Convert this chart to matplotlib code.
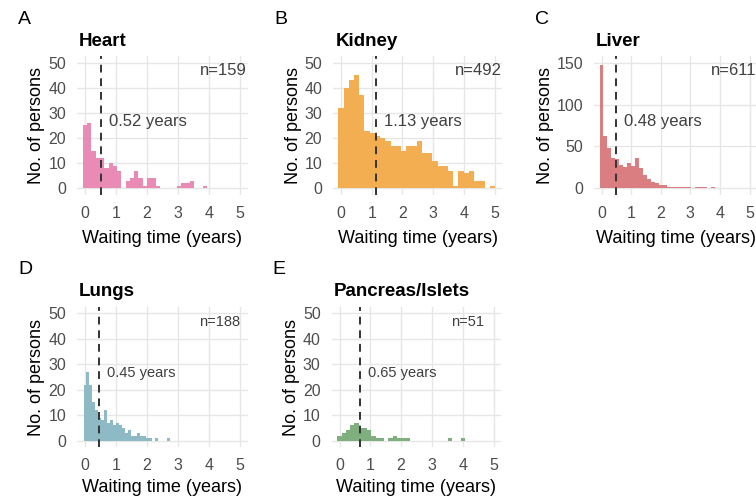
import numpy as np
import matplotlib
matplotlib.use("Agg")
import matplotlib.pyplot as plt

plt.rcParams['font.family'] = ['Liberation Sans', 'DejaVu Sans']

# ---------------- data ----------------
organs = ["Heart", "Kidney", "Liver", "Lungs", "Pancreas/Islets"]
letters = ["A", "B", "C", "D", "E"]
n_persons = [159, 492, 611, 188, 51]
medians = [0.52, 1.13, 0.48, 0.45, 0.65]
bin_widths = [0.138, 0.17, 0.135, 0.0966, 0.138]
colors = ["#E98BB5", "#F2AE50", "#DA7E82", "#8DBAC5", "#7FAF7E"]
y_max = [50, 50, 150, 50, 50]
y_ticks = [[0, 10, 20, 30, 40, 50], [0, 10, 20, 30, 40, 50], [0, 50, 100, 150],
           [0, 10, 20, 30, 40, 50], [0, 10, 20, 30, 40, 50]]
x_ticks = [0, 1, 2, 3, 4, 5]

heart_counts = [25, 26, 15, 12, 12, 8, 10, 9, 7, 0, 3, 4, 7, 4, 1, 4, 4, 1,
                0, 0, 0, 0, 1, 2, 2, 3, 0, 0, 1, 0]
kidney_counts = [32, 40, 43, 45, 37, 23, 22, 21, 20, 19, 17, 17, 15, 17, 17,
                 19, 14, 14, 11, 9, 9, 7, 1, 7, 6, 7, 3, 3, 0, 1]
liver_counts = [147, 63, 48, 36, 35, 28, 26, 30, 27, 36, 24, 16, 11, 8, 6,
                4, 4, 2, 2, 2, 1, 1, 1, 0, 1, 1, 1, 0, 1, 0]
lungs_counts = [22, 27, 22, 15, 12, 9, 8, 12, 7, 8, 6, 7, 6, 5, 3, 4, 2, 2,
                3, 2, 2, 1, 1, 0, 1, 0, 0, 0, 1, 0]
pancreas_counts = [2, 3, 4, 6, 7, 5, 5, 4, 2, 1, 1, 0, 1, 2, 1, 1, 1, 0, 0,
                   0, 0, 0, 0, 0, 0, 0, 1, 0, 0, 1]
all_counts = [heart_counts, kidney_counts, liver_counts, lungs_counts, pancreas_counts]

# ---------------- layout (pixels) ----------------
W, H = 756, 498
fig = plt.figure(figsize=(W / 100, H / 100), dpi=100)

# (x of year 0, px per year, y-top, y-bottom)
panel_px = [
    (85.0, 31.0, 56.4, 194.6),
    (341.0, 30.7, 56.4, 194.6),
    (601.5, 29.6, 56.4, 194.6),
    (85.0, 31.0, 307.0, 447.0),
    (339.5, 30.8, 307.0, 447.0),
]
text_scale = [1.0, 1.0, 1.0, 0.88, 0.88]
n_xpos = [5.22, 5.25, 5.25, 5.0, 4.7]
xlabel_pad = [7, 7, 7, 4, 4]

grid_col = "#E6E6E6"
for i in range(5):
    x0, ppy, top, bot = panel_px[i]
    left = x0 - 0.25 * ppy
    width = 5.5 * ppy
    ax = fig.add_axes([left / W, 1 - bot / H, width / W, (bot - top) / H])
    counts = np.array(all_counts[i])
    w = bin_widths[i]
    centers = np.arange(len(counts)) * w
    ax.bar(centers, counts, width=w, color=colors[i], edgecolor='none', zorder=2)
    ym = y_max[i]
    ax.set_xlim(-0.25, 5.25)
    ax.set_ylim(-0.05 * ym, 1.05 * ym)
    ax.set_xticks(x_ticks)
    ax.set_yticks(y_ticks[i])
    ax.grid(True, color=grid_col, linewidth=1.0, zorder=0)
    for s in ax.spines.values():
        s.set_visible(False)
    ax.tick_params(length=0, labelsize=11.5, labelcolor="#4D4D4D", pad=8)
    ax.axvline(medians[i], color="#333333", linestyle=(0, (4, 3)), linewidth=1.4, zorder=3)
    fs = 12 * text_scale[i]
    ax.annotate(f"{medians[i]:.2f} years", xy=(medians[i], 0.53 * ym),
                xytext=(6, 0), textcoords='offset points', ha='left', va='center',
                fontsize=fs, color="#404040")
    ax.text(n_xpos[i], 0.935 * ym, f"n={n_persons[i]}", ha='right', va='center',
            fontsize=fs, color="#404040")
    ax.set_xlabel("Waiting time (years)", fontsize=13, labelpad=xlabel_pad[i])
    ax.set_ylabel("No. of persons", fontsize=13, labelpad=2)
    fig.text(left / W + 2 / W, 1 - (top - 15) / H, organs[i], fontsize=13.5,
             fontweight='bold', ha='left', va='center')
    fig.text((left - 59) / W, 1 - (top - 37) / H, letters[i], fontsize=14,
             ha='left', va='center')

fig.savefig("out.png", dpi=100)
